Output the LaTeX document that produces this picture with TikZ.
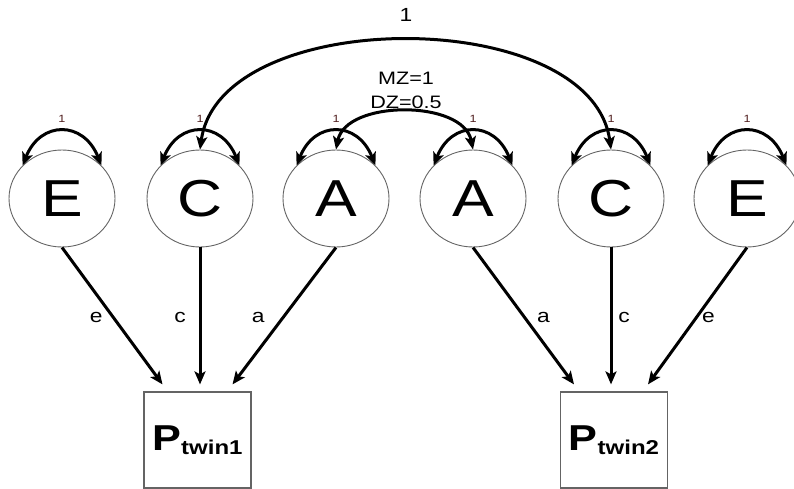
\documentclass[tikz,border=0pt]{standalone}
\usepackage{fontspec}
\setmainfont[FakeStretch=1.2]{Liberation Sans}
\usetikzlibrary{arrows.meta,shapes.geometric}
\definecolor{lbl}{RGB}{80,30,30}
\definecolor{rim}{RGB}{100,100,100}
\begin{document}
\begin{tikzpicture}[x=1pt,y=-1pt,
  latent/.style={ellipse, draw=rim, line width=0.9pt, fill=white,
    minimum width=106pt, minimum height=97pt, inner sep=0pt,
    font=\fontsize{52}{52}\selectfont},
  obs/.style={rectangle, draw=rim, line width=1.2pt, fill=white,
    minimum width=107pt, minimum height=96pt, inner sep=0pt},
  tipa/.tip={Stealth[length=13pt,width=11pt,inset=3pt]},
  pth/.style={line width=3pt, -tipa},
  dbl/.style={line width=3pt, tipa-tipa},
  one/.style={font=\fontsize{10.5}{10.5}\selectfont, text=lbl, inner sep=0pt},
  coef/.style={font=\fontsize{19}{19}\selectfont, inner sep=0pt}
]
\useasboundingbox (0,0) rectangle (794,489);

% latent variables
\node[latent] (E1) at (62,198.5) {E};
\node[latent] (C1) at (200,198.5) {C};
\node[latent] (A1) at (336,198.5) {A};
\node[latent] (A2) at (473,198.5) {A};
\node[latent] (C2) at (611,198.5) {C};
\node[latent] (E2) at (747,198.5) {E};

% observed
\node[obs] (P1) at (197.5,440) {{\fontsize{36}{36}\selectfont\bfseries P}{\fontsize{20}{20}\selectfont\bfseries\raisebox{-4pt}{twin1}}};
\node[obs] (P2) at (614,440) {{\fontsize{36}{36}\selectfont\bfseries P}{\fontsize{20}{20}\selectfont\bfseries\raisebox{-4pt}{twin2}}};

% paths
\draw[pth] (E1.south) -- ([xshift=-35pt,yshift=7pt]P1.north) node[coef,pos=0.51,xshift=-17pt] (le1) {e};
\draw[pth] (C1.south) -- ([xshift=2.5pt,yshift=7pt]P1.north) node[coef,pos=0.51,xshift=-20pt] (lc1) {c};
\draw[pth] (A1.south) -- ([xshift=35pt,yshift=7pt]P1.north) node[coef,pos=0.51,xshift=-25pt] (la1) {a};
\draw[pth] (A2.south) -- ([xshift=-40pt,yshift=7pt]P2.north) node[coef,pos=0.51,xshift=19pt] (la2) {a};
\draw[pth] (C2.south) -- ([xshift=-3pt,yshift=7pt]P2.north) node[coef,pos=0.51,xshift=13pt] (lc2) {c};
\draw[pth] (E2.south) -- ([xshift=34pt,yshift=7pt]P2.north) node[coef,pos=0.51,xshift=12pt] (le2) {e};

% variance loops
\foreach \n in {E1,C1,A1,A2,C2,E2}{
  \draw[dbl] (\n.140) .. controls +(18,-45) and +(-18,-45) .. (\n.40);
  \node[one] (v\n) at ([yshift=80pt]\n.center) {1};
}

% correlations
\draw[dbl] (C1.north) .. controls +(20,-145) and +(-20,-145) .. (C2.north);
\node[coef] (r1) at (406,15) {1};
\draw[dbl] (A1.north) .. controls +(10,-50) and +(-10,-50) .. (A2.north);
\node[coef, align=center, font=\fontsize{18}{24}\selectfont] (rA) at (406,90) {MZ=1\\DZ=0.5};
\end{tikzpicture}
\end{document}
